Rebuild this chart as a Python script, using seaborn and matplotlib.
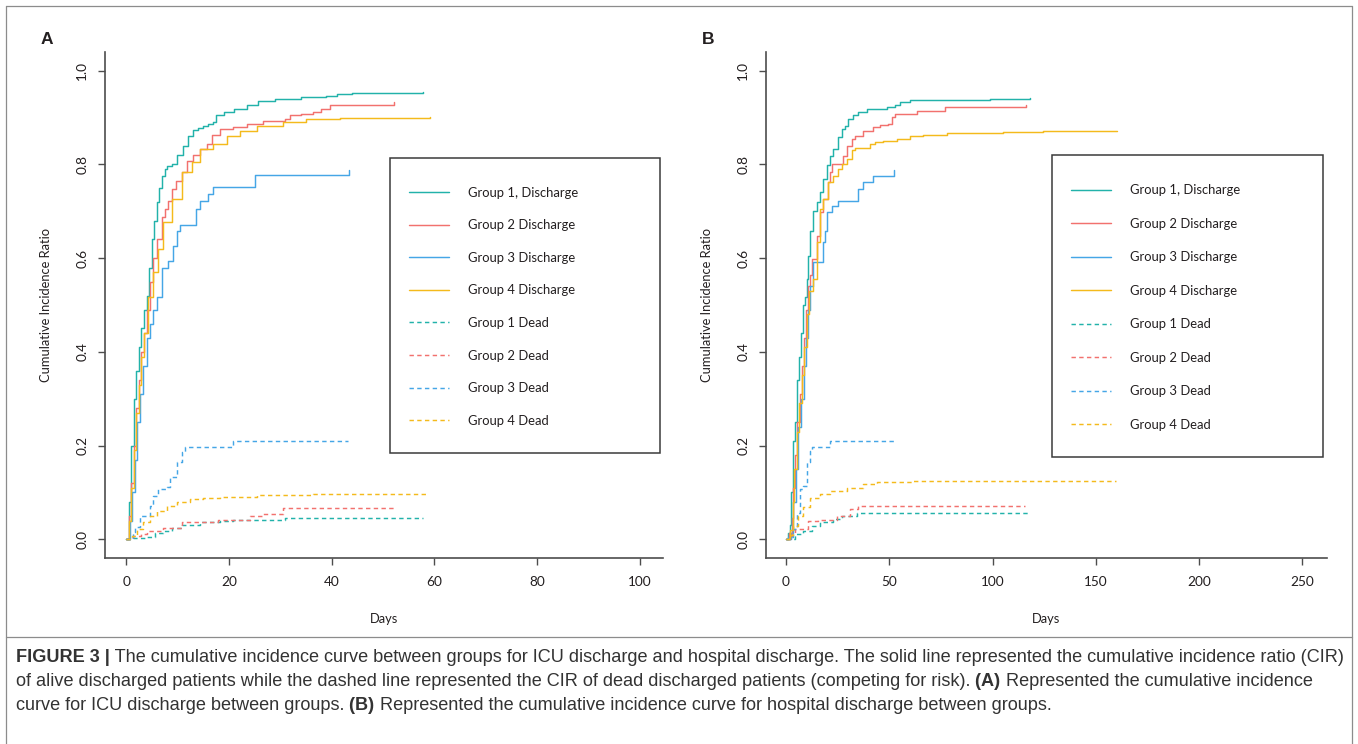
import numpy as np
import pandas as pd
import matplotlib
matplotlib.use("Agg")
import matplotlib.pyplot as plt
import seaborn as sns
from matplotlib.patches import Rectangle
from matplotlib.lines import Line2D
from matplotlib import font_manager

# ---------------- data ----------------
labels = ["Group 1, Discharge", "Group 2 Discharge", "Group 3 Discharge", "Group 4 Discharge",
          "Group 1 Dead", "Group 2 Dead", "Group 3 Dead", "Group 4 Dead"]
group_colors = ["#22B2AA", "#F2716E", "#45A6E6", "#F4BA1C"]

# Panel A: ICU discharge
A_g1_dis_t = [0, 0.5, 1, 1.5, 2, 2.5, 3, 3.5, 4, 4.5, 5, 5.5, 6, 6.5, 7, 7.5, 8, 9, 10, 11,
              12, 13, 14, 15, 16, 17, 17.6, 19, 21, 23.5, 25.7, 29, 34, 39, 41, 44, 57.7]
A_g1_dis_y = [0, 0.08, 0.2, 0.3, 0.36, 0.41, 0.45, 0.49, 0.52, 0.58, 0.64, 0.68, 0.72, 0.75, 0.775, 0.79, 0.797, 0.80, 0.82, 0.84,
              0.86, 0.873, 0.878, 0.882, 0.887, 0.89, 0.905, 0.912, 0.919, 0.926, 0.936, 0.939, 0.944, 0.947, 0.951, 0.953, 0.955]
A_g2_dis_t = [0, 0.5, 1, 1.5, 2, 2.5, 3, 3.5, 4, 4.7, 5.3, 6, 6.9, 7.5, 8.2, 8.9, 9.8, 10.8, 11.8, 13,
              14.4, 15.7, 16.7, 18.3, 20.8, 23.5, 26.7, 31, 31.9, 34, 36.4, 38, 39.7, 52.2]
A_g2_dis_y = [0, 0.05, 0.12, 0.2, 0.28, 0.34, 0.4, 0.44, 0.49, 0.549, 0.60, 0.64, 0.688, 0.705, 0.722, 0.748, 0.765, 0.784, 0.808, 0.82,
              0.833, 0.844, 0.863, 0.876, 0.88, 0.887, 0.893, 0.897, 0.905, 0.908, 0.912, 0.919, 0.927, 0.934]
A_g3_dis_t = [0, 0.7, 1.2, 1.7, 2.2, 2.8, 3.3, 4, 4.6, 5.3, 6, 6.9, 8.2, 9.2, 9.9, 10.5, 13.7, 14.4, 16, 17, 25, 43.4]
A_g3_dis_y = [0, 0.04, 0.1, 0.17, 0.25, 0.31, 0.37, 0.43, 0.46, 0.49, 0.517, 0.58, 0.594, 0.626, 0.659, 0.671, 0.705, 0.723, 0.737, 0.752, 0.778, 0.789]
A_g4_dis_t = [0, 0.5, 1, 1.5, 2, 2.5, 3, 3.5, 4.3, 5.2, 6.2, 7.2, 8.9, 10.8, 12.8, 14.4, 17, 19.6, 22.2, 25.4,
              30.6, 35.1, 41.6, 52.7, 59.1]
A_g4_dis_y = [0, 0.04, 0.11, 0.19, 0.27, 0.33, 0.39, 0.44, 0.517, 0.57, 0.62, 0.677, 0.726, 0.784, 0.805, 0.833, 0.844, 0.861, 0.872, 0.883,
              0.891, 0.896, 0.899, 0.90, 0.902]
A_g1_dead_t = [0, 1.4, 4, 5.6, 7.2, 8.9, 10.8, 14.4, 18.3, 20.8, 31, 57.8]
A_g1_dead_y = [0, 0.002, 0.004, 0.014, 0.018, 0.025, 0.03, 0.036, 0.039, 0.041, 0.045, 0.045]
A_g2_dead_t = [0, 1.4, 3, 4, 7.2, 10.8, 14.4, 17.9, 24.1, 26.7, 30.6, 52.3]
A_g2_dead_y = [0, 0.007, 0.011, 0.018, 0.025, 0.036, 0.037, 0.041, 0.049, 0.053, 0.066, 0.066]
A_g3_dead_t = [0, 1.4, 1.8, 2.7, 4.7, 5.3, 6.3, 7.9, 8.6, 9.9, 10.8, 11.5, 20.8, 43.2]
A_g3_dead_y = [0, 0.015, 0.026, 0.05, 0.071, 0.093, 0.107, 0.111, 0.132, 0.164, 0.186, 0.197, 0.21, 0.21]
A_g4_dead_t = [0, 1.1, 2.1, 3.3, 4.7, 6, 7.9, 9.9, 12.5, 15, 18.3, 20.8, 25.4, 28.6, 36.4, 58.8]
A_g4_dead_y = [0, 0.007, 0.021, 0.036, 0.05, 0.06, 0.07, 0.079, 0.085, 0.089, 0.09, 0.091, 0.094, 0.095, 0.097, 0.097]

# Panel B: hospital discharge
B_g1_dis_t = [0, 1.1, 1.9, 2.4, 3.2, 4.4, 5.2, 6.3, 7.3, 8.4, 9.2, 10, 10.8, 11.6, 13.2, 14.9, 16.5, 17.9, 19.7, 21.3,
              22.7, 25.3, 27, 28.6, 30.2, 32.6, 35, 39, 48.7, 52.8, 55.2, 60, 98.7, 118]
B_g1_dis_y = [0, 0.0125, 0.03, 0.10, 0.21, 0.25, 0.34, 0.39, 0.44, 0.50, 0.517, 0.556, 0.605, 0.659, 0.70, 0.72, 0.741, 0.769, 0.798, 0.819,
              0.833, 0.858, 0.876, 0.883, 0.897, 0.905, 0.913, 0.919, 0.922, 0.927, 0.933, 0.937, 0.939, 0.942]
B_g2_dis_t = [0, 1.6, 2.7, 3.5, 4.4, 5.5, 6.8, 7.6, 8.7, 9.7, 10.8, 11.6, 12.4, 14.9, 16.5, 18.1, 20.5, 21.3, 22.1, 27.7,
              29.4, 31.8, 33.4, 37.4, 42.3, 45.5, 49.5, 51.2, 52.8, 63.3, 77, 116.2]
B_g2_dis_y = [0, 0.0125, 0.046, 0.11, 0.18, 0.25, 0.31, 0.37, 0.43, 0.49, 0.54, 0.563, 0.598, 0.648, 0.698, 0.726, 0.762, 0.784, 0.801, 0.819,
              0.84, 0.855, 0.861, 0.872, 0.879, 0.884, 0.887, 0.901, 0.908, 0.915, 0.922, 0.926]
B_g3_dis_t = [0, 2.3, 3.5, 4.7, 6, 7.3, 8.7, 9.7, 10.8, 11.6, 13, 18.1, 18.9, 19.7, 22.1, 25.3, 35, 37.4, 42.3, 52.3]
B_g3_dis_y = [0, 0.0125, 0.08, 0.15, 0.24, 0.30, 0.37, 0.43, 0.49, 0.54, 0.591, 0.634, 0.659, 0.698, 0.712, 0.723, 0.748, 0.762, 0.776, 0.789]
B_g4_dis_t = [0, 1.9, 3.2, 4, 5.2, 6.3, 7.6, 8.7, 10, 11.1, 13.2, 14.9, 16.5, 18.1, 20.5, 22.9, 25.3, 27, 29.4, 31.8,
              33.4, 40.7, 43.1, 47.1, 53.6, 60, 66.5, 77.8, 105.2, 124.5, 160.2]
B_g4_dis_y = [0, 0.02, 0.08, 0.15, 0.23, 0.29, 0.35, 0.41, 0.48, 0.53, 0.556, 0.634, 0.705, 0.726, 0.762, 0.776, 0.791, 0.801, 0.812, 0.83,
              0.835, 0.844, 0.848, 0.851, 0.855, 0.861, 0.863, 0.867, 0.87, 0.872, 0.872]
B_g1_dead_t = [0, 2.8, 4.4, 8.4, 12.4, 16.5, 22.9, 27, 34.2, 118]
B_g1_dead_y = [0, 0.001, 0.011, 0.018, 0.028, 0.036, 0.043, 0.05, 0.055, 0.055]
B_g2_dead_t = [0, 1.9, 2.8, 4.4, 10.8, 15.6, 24.5, 31, 35, 115.7]
B_g2_dead_y = [0, 0.007, 0.014, 0.021, 0.039, 0.041, 0.05, 0.064, 0.071, 0.071]
B_g3_dead_t = [0, 1.1, 3.5, 5.2, 6.8, 8.4, 10, 11.6, 12.4, 21.3, 52.3]
B_g3_dead_y = [0, 0.005, 0.021, 0.057, 0.107, 0.114, 0.164, 0.189, 0.196, 0.21, 0.21]
B_g4_dead_t = [0, 1.5, 3.5, 6, 8.4, 11.6, 16.5, 21.3, 29.4, 37.4, 43.9, 60.8, 160]
B_g4_dead_y = [0, 0.01, 0.028, 0.05, 0.068, 0.089, 0.096, 0.103, 0.11, 0.117, 0.122, 0.125, 0.125]

A_xticks = [0, 20, 40, 60, 80, 100]
B_xticks = [0, 50, 100, 150, 200, 250]
yticks = [0.0, 0.2, 0.4, 0.6, 0.8, 1.0]

# ---------------- figure ----------------
sns.set_theme(style="white")
plt.rcParams["font.family"] = ["Lato", "DejaVu Sans"]

W, H = 1358, 744
fig = plt.figure(figsize=(W / 100, H / 100), dpi=100)
fig.patch.set_facecolor("white")

def fx(px):
    return px / W

def fy(py):
    return 1 - py / H

TXT = "#231F20"
AXC = "#4D4D4D"
DASH = (0, (3.0, 2.3))

axA = fig.add_axes([fx(105), fy(558), fx(663) - fx(105), fy(52) - fy(558)])
axB = fig.add_axes([fx(766), fy(558), fx(1327) - fx(766), fy(52) - fy(558)])

panelA = [(A_g1_dis_t, A_g1_dis_y), (A_g2_dis_t, A_g2_dis_y), (A_g3_dis_t, A_g3_dis_y), (A_g4_dis_t, A_g4_dis_y),
          (A_g1_dead_t, A_g1_dead_y), (A_g2_dead_t, A_g2_dead_y), (A_g3_dead_t, A_g3_dead_y), (A_g4_dead_t, A_g4_dead_y)]
panelB = [(B_g1_dis_t, B_g1_dis_y), (B_g2_dis_t, B_g2_dis_y), (B_g3_dis_t, B_g3_dis_y), (B_g4_dis_t, B_g4_dis_y),
          (B_g1_dead_t, B_g1_dead_y), (B_g2_dead_t, B_g2_dead_y), (B_g3_dead_t, B_g3_dead_y), (B_g4_dead_t, B_g4_dead_y)]


def draw_panel(ax, series, xticks, xlim):
    for i, (t, y) in enumerate(series):
        df = pd.DataFrame({"Days": t, "CIR": y})
        ls = "-" if i < 4 else DASH
        sns.lineplot(data=df, x="Days", y="CIR", ax=ax, color=group_colors[i % 4], linestyle=ls,
                     linewidth=1.05, drawstyle="steps-post", estimator=None, sort=False,
                     errorbar=None, legend=False)
    ax.set_xlim(*xlim)
    ax.set_ylim(-0.04, 1.04)
    ax.set_xticks(xticks)
    ax.set_yticks(yticks)
    ax.set_xticklabels([str(v) for v in xticks])
    ax.set_yticklabels(["%.1f" % v for v in yticks])
    for s in ["top", "right"]:
        ax.spines[s].set_visible(False)
    for s in ["left", "bottom"]:
        ax.spines[s].set_color(AXC)
        ax.spines[s].set_linewidth(1.2)
    ax.tick_params(axis="both", direction="out", length=5, width=1.0, color=AXC,
                   labelsize=9.8, labelcolor=TXT, left=True, bottom=True)
    ax.tick_params(axis="y", labelrotation=90, pad=7)
    ax.tick_params(axis="x", pad=8)
    for lab in ax.get_yticklabels():
        lab.set_va("center")
    ax.set_xlabel("Days", fontsize=9.3, color=TXT)
    ax.set_ylabel("Cumulative Incidence Ratio", fontsize=9.3, color=TXT)
    ax.xaxis.set_label_coords(0.5, (558 - 619) / 506.0)
    ax.xaxis.label.set_va("center")
    ax.yaxis.set_label_coords((46 - 105) / 558.0, 0.5)
    ax.yaxis.label.set_va("center")
    ax.set_facecolor("white")


draw_panel(axA, panelA, A_xticks, (-4.1, 104.5))
draw_panel(axB, panelB, B_xticks, (-9.7, 262))
axB.yaxis.set_label_coords((707 - 766) / 561.0, 0.5)


def draw_legend(box, line_x0, row_y0, spacing):
    x0, y0, x1, y1 = box
    fig.patches.append(Rectangle((fx(x0), fy(y1)), fx(x1) - fx(x0), fy(y0) - fy(y1),
                                 transform=fig.transFigure, fill=False, edgecolor="#3A3A3A", lw=1.1))
    handles = []
    for i in range(8):
        ls = "-" if i < 4 else DASH
        handles.append(Line2D([], [], color=group_colors[i % 4], linestyle=ls, linewidth=1.05))
    fs = 9.4
    fpx = fs * 100 / 72.0
    leg = fig.legend(handles, labels, loc="upper left",
                     bbox_to_anchor=(fx(line_x0), fy(row_y0 + 2.5 - 0.62 * fpx)),
                     bbox_transform=fig.transFigure, frameon=False, fontsize=fs,
                     handlelength=40 / fpx, handletextpad=19 / fpx, borderpad=0, borderaxespad=0,
                     labelspacing=(spacing + 4.2 - 1.24 * fpx) / fpx, labelcolor=TXT)
    return leg


draw_legend((390, 158, 660, 453), 409, 192.3, 32.55)
draw_legend((1052, 155, 1322.7, 457.3), 1071, 190, 33.45)

# panel letters
fig.text(fx(47), fy(40), "A", fontsize=12.5, fontweight="bold", color=TXT, ha="center", va="center",
         family=["Liberation Sans", "DejaVu Sans"])
fig.text(fx(708), fy(40), "B", fontsize=12.5, fontweight="bold", color=TXT, ha="center", va="center",
         family=["Liberation Sans", "DejaVu Sans"])

# frame lines
BORDER = "#8C8C8C"
fig.add_artist(Line2D([fx(6), fx(1352)], [fy(6), fy(6)], transform=fig.transFigure, color=BORDER, lw=0.9))
fig.add_artist(Line2D([fx(6), fx(6)], [fy(6), fy(744)], transform=fig.transFigure, color=BORDER, lw=0.9))
fig.add_artist(Line2D([fx(1352), fx(1352)], [fy(6), fy(744)], transform=fig.transFigure, color=BORDER, lw=0.9))
fig.add_artist(Line2D([fx(6), fx(1352)], [fy(637), fy(637)], transform=fig.transFigure, color=BORDER, lw=0.9))

# caption
names = {f.name for f in font_manager.fontManager.ttflist}
cap_family = ["Liberation Sans Narrow"] if "Liberation Sans Narrow" in names else ["Liberation Sans"]
cap_lines = [
    [("FIGURE 3 |", True), (" The cumulative incidence curve between groups for ICU discharge and hospital discharge. The solid line represented the cumulative incidence ratio (CIR)", False)],
    [("of alive discharged patients while the dashed line represented the CIR of dead discharged patients (competing for risk).", False), (" (A)", True), (" Represented the cumulative incidence", False)],
    [("curve for ICU discharge between groups.", False), (" (B)", True), (" Represented the cumulative incidence curve for hospital discharge between groups.", False)],
]
cap_y = [658, 681.5, 705]
renderer = fig.canvas.get_renderer()

probe_size = 11.0
total = 0
tmp = []
for txt, b in cap_lines[0]:
    t = fig.text(0, 0, txt, fontsize=probe_size, fontweight="bold" if b else "normal", family=cap_family)
    total += t.get_window_extent(renderer=renderer).width
    tmp.append(t)
for t in tmp:
    t.remove()
cap_size = probe_size * (1345 - 16) / total

for line, ypx in zip(cap_lines, cap_y):
    x = 16.0
    for txt, b in line:
        t = fig.text(fx(x), fy(ypx), txt, fontsize=cap_size, fontweight="bold" if b else "normal",
                     family=cap_family, color="#333333", ha="left", va="center")
        x += t.get_window_extent(renderer=renderer).width

fig.savefig("out.png", dpi=100, facecolor="white")
